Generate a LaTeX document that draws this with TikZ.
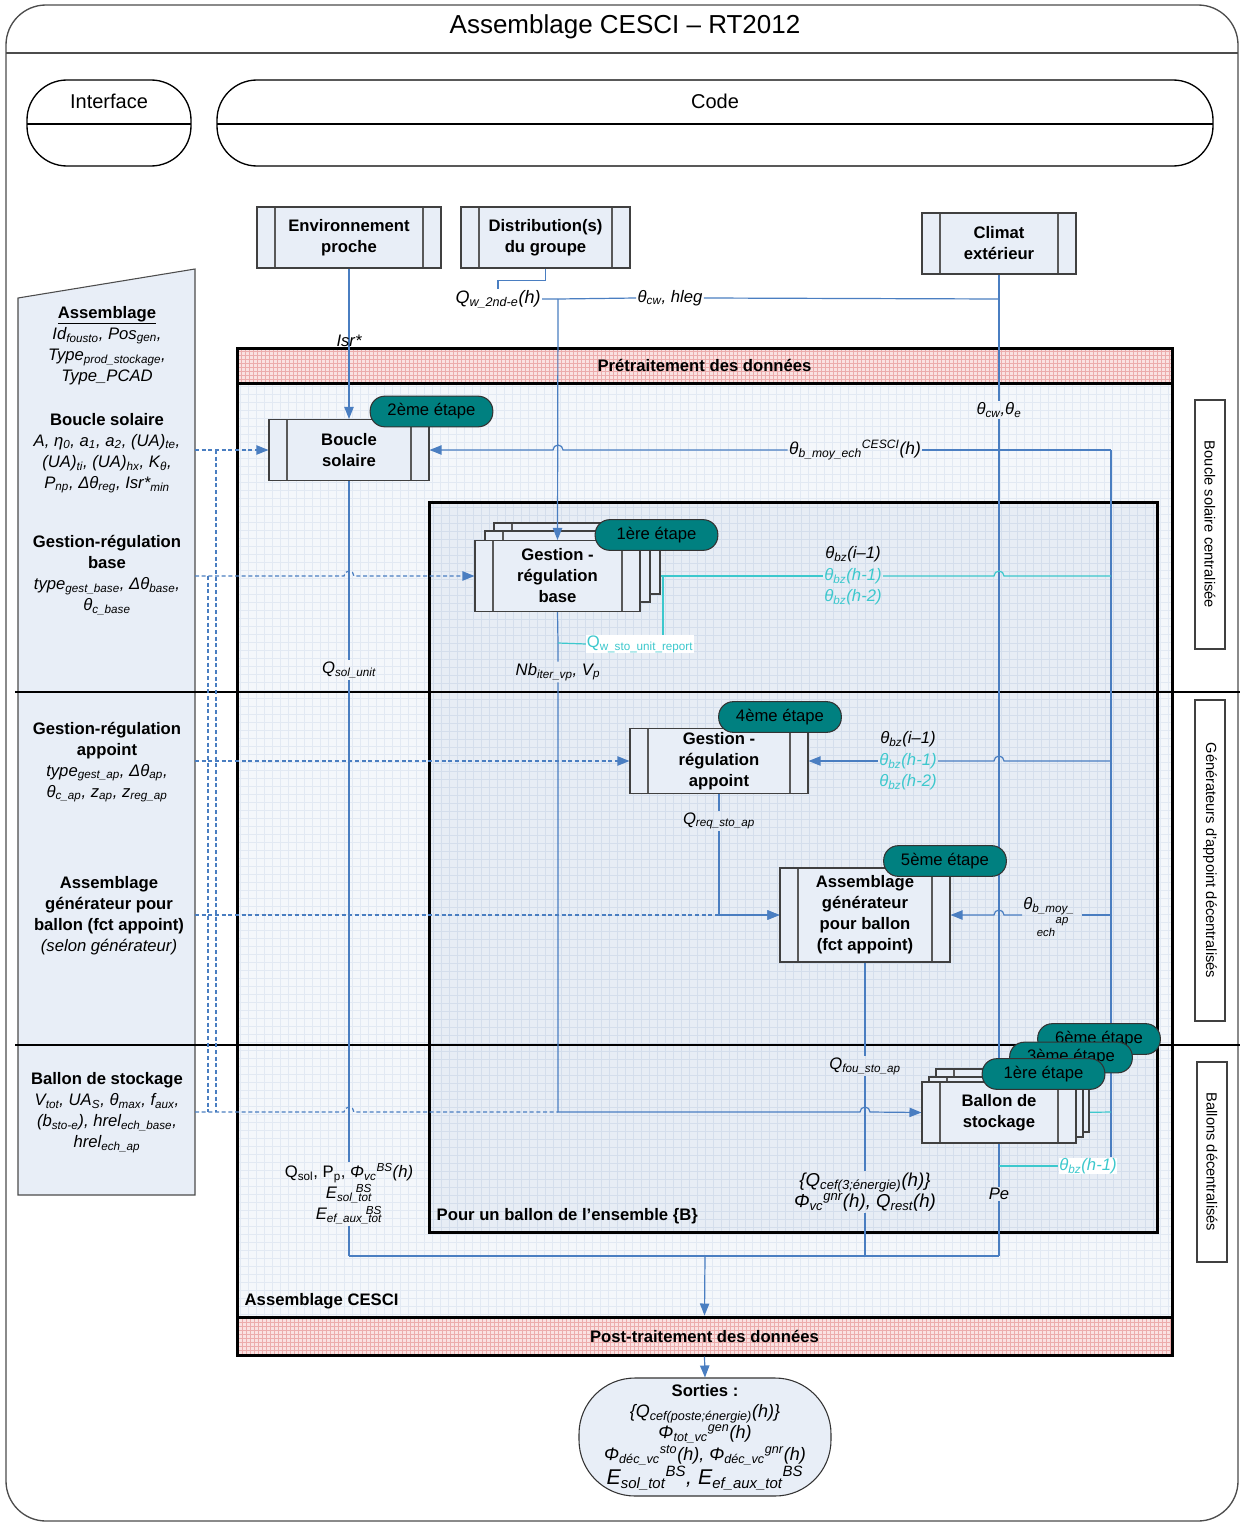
\documentclass[tikz,border=0pt]{standalone}
\usepackage{tikz}
\usepackage{fontspec}
\setmainfont{Liberation Sans}
\usetikzlibrary{arrows.meta}
\pgfdeclarelayer{back}
\pgfdeclarelayer{mid}
\pgfsetlayers{back,mid,main}
\definecolor{blu}{RGB}{74,126,193}
\definecolor{cya}{RGB}{60,200,205}
\definecolor{tealc}{RGB}{0,128,128}
\definecolor{nfill}{RGB}{232,238,247}
\definecolor{cfill}{RGB}{244,247,251}
\definecolor{cgrid}{RGB}{226,233,243}
\definecolor{ifill}{RGB}{231,237,245}
\definecolor{igrid}{RGB}{212,222,236}
\definecolor{pfill}{RGB}{250,226,226}
\definecolor{pgrid}{RGB}{236,172,172}
\newcommand\sbb[1]{\textsubscript{#1}}
\newcommand\spp[1]{\textsuperscript{#1}}
\newcommand\ssp[2]{\textsubscript{#1}\llap{\textsuperscript{#2}}}
\begin{document}
\begin{tikzpicture}[x=0.75pt,y=-0.75pt,
  con/.style={blu,line width=0.9pt},
  arr/.style={con,-{Triangle[length=9pt,width=7pt]}},
  ccon/.style={cya,line width=0.9pt},
  carr/.style={ccon,-{Triangle[length=9pt,width=7pt]}},
  dsh/.style={blu,line width=0.9pt,dash pattern=on 3pt off 2pt},
  darr/.style={dsh,-{Triangle[length=9pt,width=7pt]}},
  procbox/.style={draw=black!75,fill=nfill,line width=0.8pt,align=center,inner sep=0pt,
    font=\bfseries\fontsize{12.5}{15.75}\selectfont,
    path picture={
      \draw[black!65,line width=0.8pt] ([xshift=13.5pt]path picture bounding box.north west) -- ([xshift=13.5pt]path picture bounding box.south west);
      \draw[black!65,line width=0.8pt] ([xshift=-13.5pt]path picture bounding box.north east) -- ([xshift=-13.5pt]path picture bounding box.south east);}},
  tagbox/.style={draw=black!80,fill=tealc,line width=0.8pt,rounded corners=11pt,minimum width=92pt,minimum height=23pt,inner sep=0pt,font=\fontsize{12.5}{15}\selectfont},
  lp/.style={align=center,inner sep=0pt,font=\fontsize{12.5}{15.75}\selectfont},
  lbl/.style={align=center,inner sep=1pt,font=\itshape\fontsize{12.5}{16}\selectfont},
  vbox/.style={draw=black!75,fill=white,line width=0.8pt,rotate=-90,inner sep=0pt,minimum height=22.5pt,font=\fontsize{11}{13}\selectfont},
  band/.style={draw=black,line width=2.25pt,fill=pfill,inner sep=0pt,font=\bfseries\fontsize{12.5}{15}\selectfont,
    path picture={\draw[pgrid,line width=0.25pt,step=3pt] (path picture bounding box.south west) grid (path picture bounding box.north east);}}
]
\useasboundingbox (0,0) rectangle (1240,1523);

% ---------------- background layer ----------------
\begin{pgfonlayer}{back}
\draw[black!70,line width=1pt,fill=white,rounded corners=30pt] (6,5) rectangle (1238,1521);
\draw[black!70,line width=1pt] (6,53) -- (1238,53);
\draw[black,line width=1pt,fill=white,rounded corners=30pt] (27,80) rectangle (191,166);
\draw[black,line width=1pt] (27,124) -- (191,124);
\draw[black,line width=1pt,fill=white,rounded corners=30pt] (217,80) rectangle (1213,166);
\draw[black,line width=1pt] (217,124) -- (1213,124);
\draw[black!70,line width=0.8pt,fill=nfill] (18,298) -- (195,269) -- (195,1195) -- (18,1195) -- cycle;
\node[draw=black,line width=2.25pt,fill=cfill,minimum width=701.25pt,minimum height=700.5pt,inner sep=0pt,
  path picture={\draw[cgrid,line width=0.3pt,step=6pt] (path picture bounding box.south west) grid (path picture bounding box.north east);}]
  (cesci) at (704.5,850) {};
\node[draw=black,line width=2.25pt,fill=ifill,minimum width=546pt,minimum height=547.5pt,inner sep=0pt,
  path picture={\draw[igrid,line width=0.3pt,step=6pt] (path picture bounding box.south west) grid (path picture bounding box.north east);}]
  (ens) at (793,867) {};
\node[band,minimum width=701.25pt,minimum height=26.25pt] (pre) at (704.5,365.5) {Prétraitement des données};
\node[band,minimum width=701.25pt,minimum height=28.5pt] (post) at (704.5,1336) {Post-traitement des données};
\end{pgfonlayer}

% ---------------- titles and frames text ----------------
\node[font=\fontsize{19.5}{22}\selectfont] (title) at (625,27) {Assemblage CESCI – RT2012};
\node[font=\fontsize{15}{18}\selectfont] (interface) at (109,101) {Interface};
\node[font=\fontsize{15}{18}\selectfont] (code) at (715,101) {Code};
\node[anchor=west,font=\bfseries\fontsize{12.5}{15}\selectfont] (lcesciT) at (240,1301) {Assemblage CESCI};
\node[anchor=west,font=\bfseries\fontsize{12.5}{15}\selectfont] (lensT) at (432,1216) {Pour un ballon de l’ensemble \{B\}};

% ---------------- left panel ----------------
\node[lp] (pAss) at (107,345.5) {{\bfseries\underline{Assemblage}}\\{\itshape Id\sbb{fousto}, Pos\sbb{gen},}\\{\itshape Type\sbb{prod\_stockage},}\\{\itshape Type\_PCAD}};
\node[lp] (pBs) at (107,453) {{\bfseries Boucle solaire}\\{\itshape A, η\sbb{0}, a\sbb{1}, a\sbb{2}, (UA)\sbb{te},}\\{\itshape (UA)\sbb{ti}, (UA)\sbb{hx}, K\sbb{θ},}\\{\itshape P\sbb{np}, Δθ\sbb{reg}, Isr*\sbb{min}}};
\node[lp] (pGb) at (107,575) {{\bfseries Gestion-régulation}\\{\bfseries base}\\{\itshape type\sbb{gest\_base}, Δθ\sbb{base},}\\{\itshape θ\sbb{c\_base}}};
\node[lp] (pGa) at (107,762) {{\bfseries Gestion-régulation}\\{\bfseries appoint}\\{\itshape type\sbb{gest\_ap}, Δθ\sbb{ap},}\\{\itshape θ\sbb{c\_ap}, z\sbb{ap}, z\sbb{reg\_ap}}};
\node[lp] (pAg) at (109,916) {{\bfseries Assemblage}\\{\bfseries générateur pour}\\{\bfseries ballon (fct appoint)}\\{\itshape (selon générateur)}};
\node[lp] (pBa) at (107,1113) {{\bfseries Ballon de stockage}\\{\itshape V\sbb{tot}, UA\sbb{S}, θ\sbb{max}, f\sbb{aux},}\\{\itshape (b\sbb{sto-e}), hrel\sbb{ech\_base},}\\{\itshape hrel\sbb{ech\_ap}}};

% ---------------- right vertical boxes ----------------
\node[vbox,minimum width=186.75pt] (rv1) at (1210,524.5) {Boucle solaire centralisée};
\node[vbox,minimum width=240.75pt] (rv2) at (1210,860.5) {Générateurs d’appoint décentralisés};
\node[vbox,minimum width=150pt] (rv3) at (1212,1162) {Ballons décentralisés};

% ---------------- process nodes ----------------
\node[procbox,minimum width=138pt,minimum height=45.75pt] (env) at (349,237.5) {Environnement\\proche};
\node[procbox,minimum width=126.75pt,minimum height=45.75pt] (dist) at (545.5,237.5) {Distribution(s)\\du groupe};
\node[procbox,minimum width=115.5pt,minimum height=45.75pt] (clim) at (999,243.5) {Climat\\extérieur};
\node[procbox,minimum width=120pt,minimum height=45.75pt] (bs) at (349,450) {Boucle\\solaire};
\node[procbox,minimum width=124.5pt,minimum height=53.25pt] (gb3) at (577,558.5) {};
\node[procbox,minimum width=123.75pt,minimum height=53.25pt] (gb2) at (567.5,566.5) {};
\node[procbox,minimum width=123.75pt,minimum height=53.25pt] (gb) at (557.5,576) {Gestion -\\régulation\\base};
\node[procbox,minimum width=133.5pt,minimum height=48.75pt] (ga) at (719,761) {Gestion -\\régulation\\appoint};
\node[procbox,minimum width=127.5pt,minimum height=70.5pt] (agen) at (865,915) {Assemblage\\générateur\\pour ballon\\(fct appoint)};
\node[procbox,minimum width=114.75pt,minimum height=47.25pt] (ba3) at (1012.5,1100.5) {};
\node[procbox,minimum width=115.5pt,minimum height=45pt] (ba2) at (1006,1107) {};
\node[procbox,minimum width=115.5pt,minimum height=45.75pt] (ba) at (999,1112.5) {Ballon de\\stockage};

% ---------------- step tags ----------------
\node[tagbox] (t2) at (431.5,411.5) {2ème étape};
\node[tagbox] (t1a) at (656.5,535) {1ère étape};
\node[tagbox] (t4) at (780,717) {4ème étape};
\node[tagbox] (t5) at (945,861) {5ème étape};
\node[tagbox] (t6) at (1099,1039) {6ème étape};
\node[tagbox] (t3) at (1071,1057.5) {3ème étape};
\node[tagbox] (t1b) at (1043.5,1074) {1ère étape};

% ---------------- labels ----------------
\node[lbl] (lisr) at (349,341) {Isr*};
\node[lbl,font=\itshape\fontsize{13.5}{16}\selectfont] (lqw) at (498,299) {Q\sbb{w\_2nd-e}(h)};
\node[lbl] (lcw) at (670,298) {θ\sbb{cw}, hleg};
\node[lbl] (lthe) at (999,410) {θ\sbb{cw},θ\sbb{e}};
\node[lbl,font=\itshape\fontsize{13}{16}\selectfont] (lcesci) at (855,450) {θ\sbb{b\_moy\_ech}\spp{CESCI}(h)};
\node[lbl] (lbz1) at (853,576) {θ\sbb{bz}(i–1)\\\textcolor{cya}{θ\sbb{bz}(h-1)}\\\textcolor{cya}{θ\sbb{bz}(h-2)}};
\node[lbl] (lbz2) at (908,761) {θ\sbb{bz}(i–1)\\\textcolor{cya}{θ\sbb{bz}(h-1)}\\\textcolor{cya}{θ\sbb{bz}(h-2)}};
\node[lbl,anchor=west,inner sep=0pt] (lbm) at (1023,906) {θ\sbb{b\_moy\_}};
\node[lbl,font=\itshape\fontsize{8.5}{9}\selectfont,inner sep=0pt] (lbmap) at (1062,922) {ap};
\node[lbl,font=\itshape\fontsize{8.5}{9}\selectfont,inner sep=0pt] (lbmech) at (1046,932) {ech};
\node[lbl,fill=white,text=cya,font=\fontsize{12.5}{14}\selectfont,inner sep=0.5pt] (lrep) at (640,644) {Q\sbb{w\_sto\_unit\_report}};
\node[lbl] (lnb) at (558,672) {Nb\sbb{iter\_vp}, V\sbb{p}};
\node[lbl] (lqsu) at (349,670) {Q\sbb{sol\_unit}};
\node[lbl] (lreq) at (719,821) {Q\sbb{req\_sto\_ap}};
\node[lbl] (lfou) at (865,1066) {Q\sbb{fou\_sto\_ap}};
\node[lbl,font=\fontsize{12.5}{15.75}\selectfont] (lqsol) at (349,1194) {Q\sbb{sol}, P\sbb{p}, {\itshape Φ\sbb{vc}\spp{BS}(h)}\\{\itshape E\ssp{sol\_tot}{BS}}\\{\itshape E\ssp{ef\_aux\_tot}{BS}}};
\node[lbl,font=\itshape\fontsize{14}{15.5}\selectfont] (lcef) at (865,1192) {\{Q\sbb{cef(3;énergie)}(h)\}\\Φ\sbb{vc}\spp{gnr}(h), Q\sbb{rest}(h)};
\node[lbl] (lpe) at (999,1194) {Pe};
\node[lbl,fill=white,text=cya,inner sep=0.5pt] (lbzh) at (1088,1166) {θ\sbb{bz}(h-1)};

% ---------------- outputs ----------------
\node[draw=black!80,fill=nfill,line width=0.8pt,rounded corners=42pt,minimum width=189pt,minimum height=88.5pt,inner sep=0pt,align=center,font=\fontsize{13.5}{16}\selectfont] (sort) at (705,1437)
 {{\bfseries\fontsize{12.5}{15}\selectfont Sorties :}\\{\itshape \{Q\sbb{cef(poste;énergie)}(h)\}}\\{\itshape Φ\sbb{tot\_vc}\spp{gen}(h)}\\{\itshape Φ\sbb{déc\_vc}\spp{sto}(h), Φ\sbb{déc\_vc}\spp{gnr}(h)}\\{\itshape\fontsize{16}{17}\selectfont E\sbb{sol\_tot}\spp{BS}, E\sbb{ef\_aux\_tot}\spp{BS}}};

% ---------------- coordinates ----------------
\coordinate (jq) at (558,299);
\coordinate (jc) at (999,299);
\coordinate (rb450) at (1111,450);
\coordinate (rb576) at (1111,576);
\coordinate (rb761) at (1111,761);
\coordinate (rb915) at (1111,915);
\coordinate (rb1112) at (1111,1112);
\coordinate (rbend) at (1111,1157);
\coordinate (jrep) at (558,643);
\coordinate (c663) at (663,576);
\coordinate (j1112) at (558,1112);
\coordinate (j915) at (719,915);
\coordinate (j1166) at (999,1166);
\coordinate (cb349) at (349,1256);
\coordinate (cb705) at (705,1256);
\coordinate (cb865) at (865,1256);
\coordinate (cb999) at (999,1256);
\coordinate (lbmE) at (1082,915);
\coordinate (lbmW) at (1022,915);
\coordinate (d450) at (195,450);
\coordinate (d576) at (195,576);
\coordinate (d761) at (195,761);
\coordinate (d915) at (195,915);
\coordinate (d1112) at (195,1112);
\coordinate (dv1a) at (216,450);
\coordinate (dv1b) at (216,1112);
\coordinate (dv2a) at (208,576);
\coordinate (dv2b) at (208,1112);

% ---------------- connectors (below nodes) ----------------
\begin{pgfonlayer}{mid}
\draw[black,line width=0.8pt] (15,692) -- (1240,692);
\draw[black,line width=0.8pt] (15,1045) -- (1240,1045);
% interface dashed lines
\draw[darr] (d450) -- (bs.west);
\draw[darr] (d576) -- (344,576) arc[start angle=180,end angle=0,radius=3.75pt] -- (gb.west);
\draw[darr] (d761) -- (ga.west);
\draw[darr] (d915) -- (agen.west);
\draw[dsh] (d1112) -- (344,1112) arc[start angle=180,end angle=0,radius=3.75pt] -- (j1112);
\draw[dsh] (dv1a) -- (dv1b);
\draw[dsh] (dv2a) -- (dv2b);
% top inputs
\draw[arr] (env.south) -- (bs.north);
\draw[con] (dist.south) -- ++(0,12) -| (lqw.north);
\draw[con] (lqw.east) -- (jq) -- (lcw.west);
\draw[con] (lcw.east) -- (jc);
\draw[con] (clim.south) -- (jc) -- (lthe.north);
\draw[arr] (lthe.south) -- (ba.north);
% right feedback bus
\draw[con] (rb450) -- (rbend);
\draw[con] (rb450) -- (lcesci.east);
\draw[arr] (lcesci.west) -- (563,450) arc[start angle=0,end angle=180,radius=3.75pt] -- (bs.east);
\draw[ccon] (rb576) -- (1004,576) arc[start angle=0,end angle=180,radius=3.75pt] -- (lbz1.east);
\draw[carr] (lbz1.west) -- (gb.east);
\draw[con] (rb761) -- (1004,761) arc[start angle=0,end angle=180,radius=3.75pt] -- (lbz2.east);
\draw[arr] (lbz2.west) -- (ga.east);
\draw[con] (rb915) -- (lbmE);
\draw[arr] (lbmW) -- (1004,915) arc[start angle=0,end angle=180,radius=3.75pt] -- (agen.east);
\draw[carr] (rb1112) -- (ba.east);
% solar loop
\draw[con] (bs.south) -- (lqsu.north);
\draw[con] (lqsu.south) -- (lqsol.north);
\draw[con] (lqsol.south) -- (cb349);
% gestion base
\draw[con] (gb.south) -- (jrep) -- (lnb.north);
\draw[ccon] (jrep) -- (lrep.west);
\draw[ccon] (c663) -- (c663 |- lrep.north);
\draw[arr] (lnb.south) -- (j1112) -- (860,1112) arc[start angle=180,end angle=0,radius=3.75pt] -- (ba.west);
% gestion appoint
\draw[con] (ga.south) -- (lreq.north);
\draw[arr] (lreq.south) -- (j915) -- (agen.west);
% generator
\draw[con] (agen.south) -- (lfou.north);
\draw[con] (lfou.south) -- (lcef.north);
\draw[con] (lcef.south) -- (cb865);
% storage outputs
\draw[con] (ba.south) -- (lpe.north);
\draw[con] (lpe.south) -- (cb999);
\draw[ccon] (j1166) -- (lbzh.west);
% collector
\draw[con] (cb349) -- (cb999);
\draw[arr] (cb705) -- (post.north);
\draw[arr] (post.south) -- (sort.north);
\end{pgfonlayer}

% arrow over the stacked boxes
\draw[arr] (jq) -- (gb.north);
\end{tikzpicture}
\end{document}
